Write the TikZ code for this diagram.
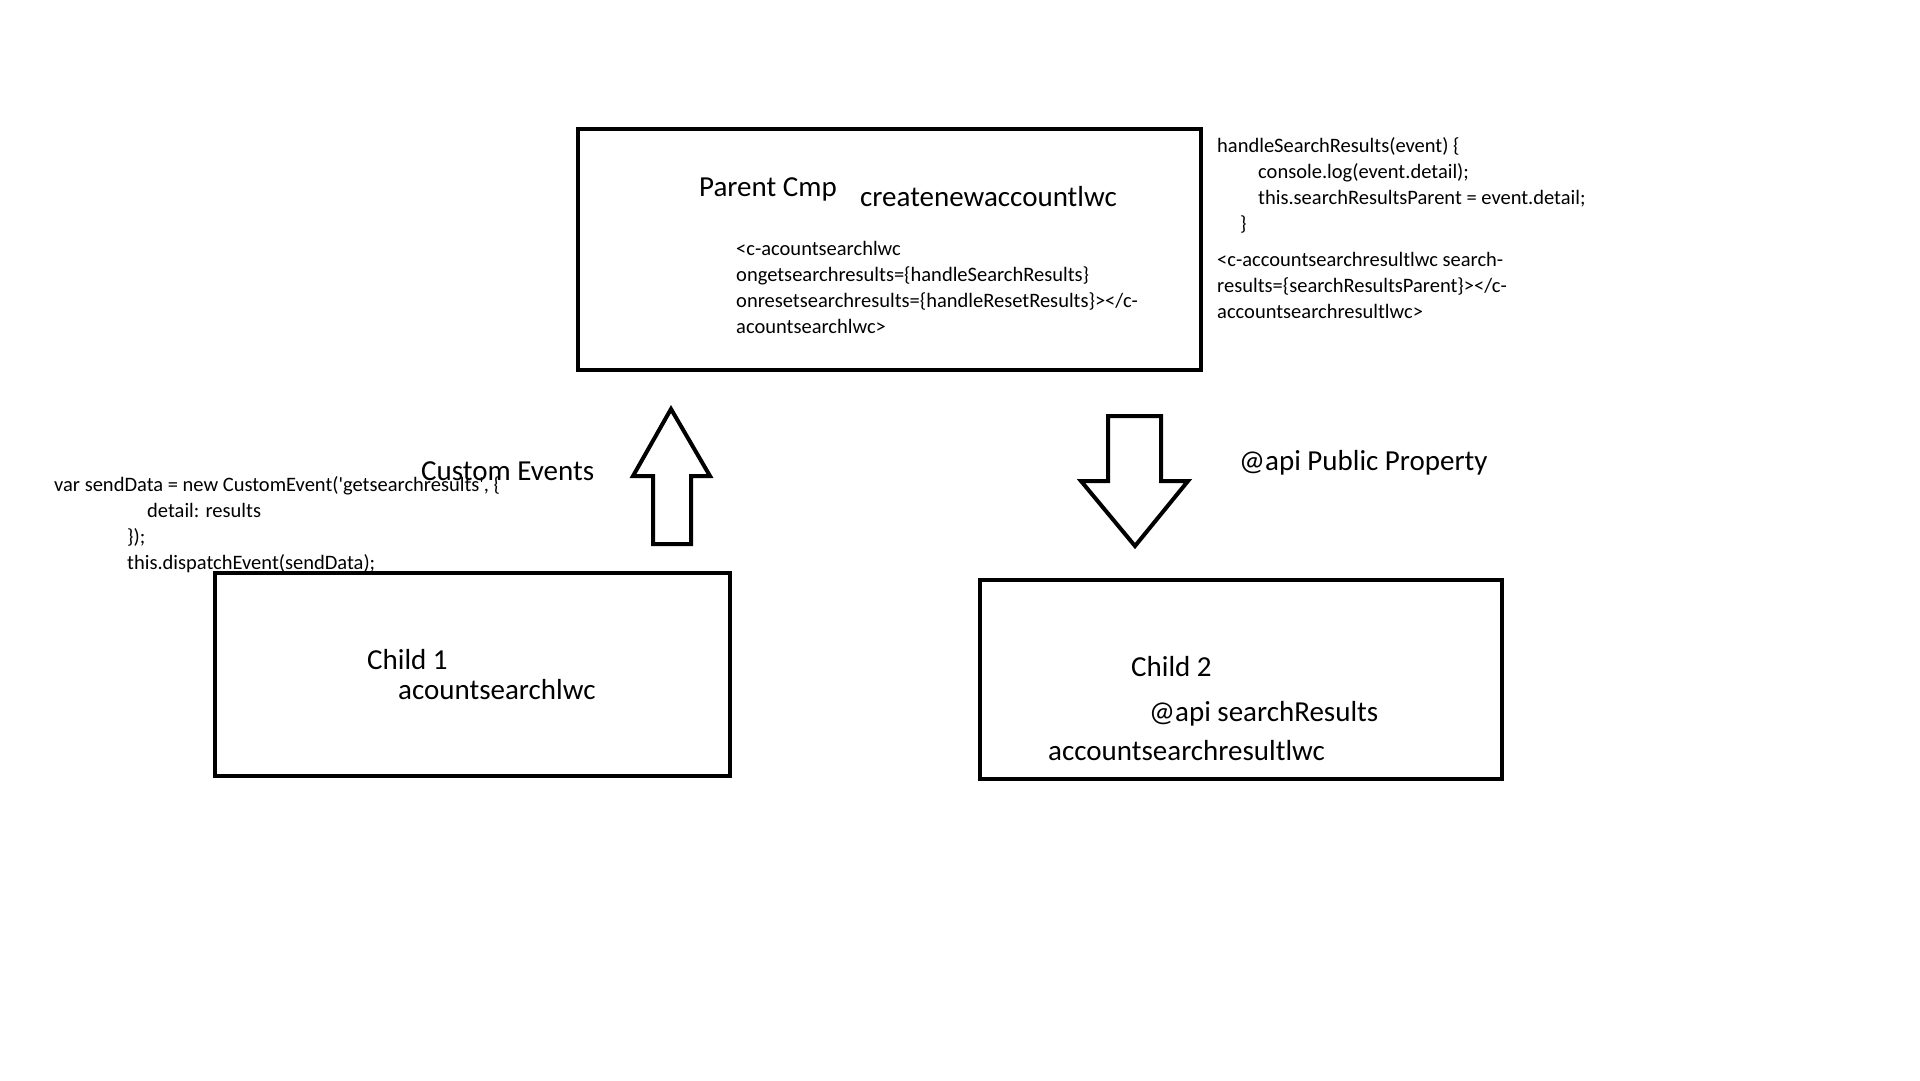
\documentclass[tikz,border=0pt]{standalone}
\usepackage{fontspec}
\setmainfont{Carlito}

\begin{document}
\begin{tikzpicture}[x=1pt, y=-1pt,
  box/.style={draw, line width=4pt, inner sep=0pt},
  big/.style={font=\fontsize{29}{31}\selectfont, anchor=base west, inner sep=0pt},
  code/.style={font=\fontsize{20.5}{26}\selectfont, align=left, anchor=base west, inner sep=0pt},
  blockarrow/.style={draw, line width=4pt, miter limit=10}]
\useasboundingbox (0,0) rectangle (1920,1080);

% components
\node[box, minimum width=623pt, minimum height=241pt] (parent) at (889.5,249.5) {};
\node[box, minimum width=515pt, minimum height=203pt] (childone) at (472.5,674.5) {};
\node[box, minimum width=522pt, minimum height=199pt] (childtwo) at (1241,679.5) {};

% parent texts (code nodes sit on their last line)
\node[big] (parentlbl) at (699,196) {Parent Cmp};
\node[big] (parentname) at (860,206) {createnewaccountlwc};
\node[code] (parentcode) at (736,333) {<c-acountsearchlwc\\ ongetsearchresults=\{handleSearchResults\}\\ onresetsearchresults=\{handleResetResults\}></c-\\ acountsearchlwc>};
\node[code] (handler) at (1217,230) {handleSearchResults(event) \{\\ \hspace*{41pt}console.log(event.detail);\\ \hspace*{41pt}this.searchResultsParent = event.detail;\\ \hspace*{23pt}\}};
\node[code] (childtag) at (1217,318) {<c-accountsearchresultlwc search-\\ results=\{searchResultsParent\}></c-\\ accountsearchresultlwc>};

% child texts
\node[big] (childonelbl) at (367,669) {Child 1};
\node[big] (childonename) at (398,699) {acountsearchlwc};
\node[big] (childtwolbl) at (1131,676) {Child 2};
\node[big] (childtwoapi) at (1149,721) {@api searchResults};
\node[big] (childtwoname) at (1048,760) {accountsearchresultlwc};

% event code
\node[code] (dispatch) at (54,569) {var sendData = new CustomEvent(\textquotesingle getsearchresults\textquotesingle, \{\\ \hspace*{93pt}detail: results\\ \hspace*{73pt}\});\\ \hspace*{73pt}this.dispatchEvent(sendData);};

% block arrows
\draw[blockarrow] (653,544) -- (653,476) -- (633,476) -- (671,409) -- (710,476) -- (691,476) -- (691,544) -- cycle;
\draw[blockarrow] (1108,416) -- (1161,416) -- (1161,481) -- (1188,481) -- (1135,546) -- (1081,481) -- (1108,481) -- cycle;
\node[big] (eventslbl) at (421,480) {Custom Events};
\node[big] (apilbl) at (1239,470) {@api Public Property};
\end{tikzpicture}
\end{document}
